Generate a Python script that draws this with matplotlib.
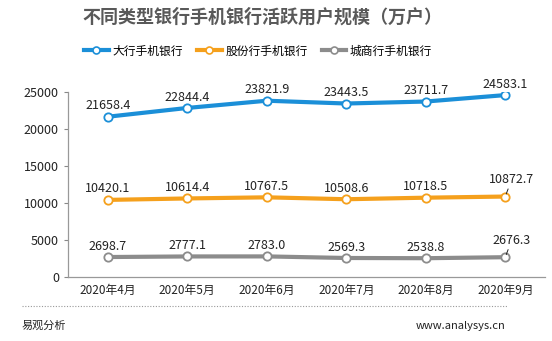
import matplotlib.pyplot as plt
from matplotlib.lines import Line2D
import numpy as np

plt.rcParams['font.family'] = ['Noto Sans CJK SC', 'DejaVu Sans']

months = ['2020年4月', '2020年5月', '2020年6月', '2020年7月', '2020年8月', '2020年9月']
big_banks = [21658.4, 22844.4, 23821.9, 23443.5, 23711.7, 24583.1]
joint_stock = [10420.1, 10614.4, 10767.5, 10508.6, 10718.5, 10872.7]
city_banks = [2698.7, 2777.1, 2783.0, 2569.3, 2538.8, 2676.3]
series_names = ['大行手机银行', '股份行手机银行', '城商行手机银行']
colors = ['#1b8fd8', '#f5a01c', '#8c8c8c']

fig = plt.figure(figsize=(5.52, 3.41), dpi=100)
ax = fig.add_axes([68 / 552, 1 - 277 / 341, (545 - 68) / 552, (277 - 92) / 341])

x = np.arange(len(months))
for vals, c in zip([big_banks, joint_stock, city_banks], colors):
    ax.plot(x, vals, color=c, lw=3, marker='o', ms=6,
            mfc='white', mec=c, mew=1.3, zorder=3)
    for i, v in enumerate(vals):
        if i == len(vals) - 1 and vals is not big_banks:
            # last label sits up-right with a short leader line
            ax.annotate(f'{v:.1f}', xy=(x[i], v), xytext=(x[i] + 0.08, v + 1400),
                        ha='center', va='bottom', fontsize=9, color='#222222',
                        arrowprops=dict(arrowstyle='-', color='#222222', lw=0.7,
                                        shrinkA=0, shrinkB=2))
        else:
            ax.text(x[i], v + 600, f'{v:.1f}', ha='center', va='bottom',
                    fontsize=9, color='#222222')

ax.set_xlim(-0.5, len(months) - 0.5)
ax.set_ylim(0, 25000)
ax.set_yticks([0, 5000, 10000, 15000, 20000, 25000])
ax.set_xticks(x)
ax.set_xticklabels(months)
ax.tick_params(axis='y', labelsize=9, colors='#222222', length=3, color='#888888')
ax.tick_params(axis='x', labelsize=8.5, colors='#222222', length=0, pad=5)
for s in ['top', 'right']:
    ax.spines[s].set_visible(False)
for s in ['left', 'bottom']:
    ax.spines[s].set_color('#999999')
    ax.spines[s].set_linewidth(0.9)

fig.text(262 / 552, 1 - 17 / 341, '不同类型银行手机银行活跃用户规模（万户）', ha='center',
         va='center', fontsize=13, fontweight='bold', color='#595959')

handles = [Line2D([], [], color=c, lw=3, marker='o', ms=5, mfc='white', mec=c, mew=1.2)
           for c in colors]
fig.legend(handles, series_names, loc='center', bbox_to_anchor=(258 / 552, 1 - 51 / 341),
           ncol=3, frameon=False, fontsize=8.5, handlelength=2.1, handletextpad=0.3,
           columnspacing=1.2)

fig.add_artist(Line2D([22 / 552, 507 / 552], [1 - 306 / 341] * 2, color='#999999',
                      lw=0.8, ls=(0, (1, 1.5))))
fig.text(22 / 552, 1 - 326 / 341, '易观分析', ha='left', va='center', fontsize=8, color='#222222')
fig.text(505 / 552, 1 - 326 / 341, 'www.analysys.cn', ha='right', va='center', fontsize=8,
         color='#222222')

fig.savefig('out.png', dpi=100)
